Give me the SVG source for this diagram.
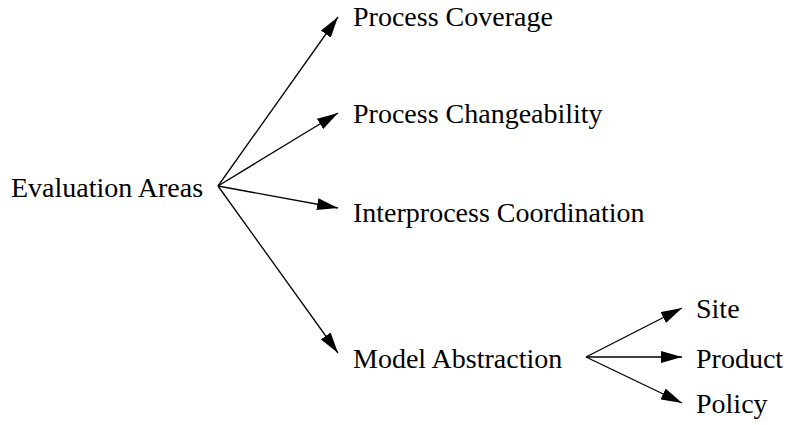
<svg xmlns="http://www.w3.org/2000/svg" width="787" height="425" viewBox="0 0 787 425">
<style>
.c line{stroke:#000;stroke-width:1.3}
</style>
<defs>
<marker id="ah" markerUnits="userSpaceOnUse" markerWidth="22" markerHeight="12" refX="21" refY="6" orient="auto">
<path d="M0,0 L21,6 L0,12 Z" fill="#000"/>
</marker>
</defs>
<rect width="787" height="425" fill="#fff"/>
<g class="c" id="connectors">
<line x1="218" y1="186" x2="338" y2="17" marker-end="url(#ah)"/>
<line x1="218" y1="186" x2="338" y2="113" marker-end="url(#ah)"/>
<line x1="218" y1="186" x2="338" y2="208" marker-end="url(#ah)"/>
<line x1="218" y1="186" x2="338" y2="353" marker-end="url(#ah)"/>
<line x1="586" y1="357" x2="682" y2="308" marker-end="url(#ah)"/>
<line x1="586" y1="357" x2="682" y2="357" marker-end="url(#ah)"/>
<line x1="586" y1="357" x2="682" y2="403" marker-end="url(#ah)"/>
</g>
<g font-family="Liberation Serif, DejaVu Serif, serif" font-size="28" fill="#000">
<g id="evaluation-areas"><text x="11" y="197">Evaluation Areas</text></g>
<g id="process-coverage"><text x="353" y="26">Process Coverage</text></g>
<g id="process-changeability"><text x="353" y="123">Process Changeability</text></g>
<g id="interprocess-coordination"><text x="353" y="222">Interprocess Coordination</text></g>
<g id="model-abstraction"><text x="353" y="368">Model Abstraction</text></g>
<g id="site"><text x="696" y="318">Site</text></g>
<g id="product"><text x="696" y="368">Product</text></g>
<g id="policy"><text x="696" y="413">Policy</text></g>
</g>
</svg>
